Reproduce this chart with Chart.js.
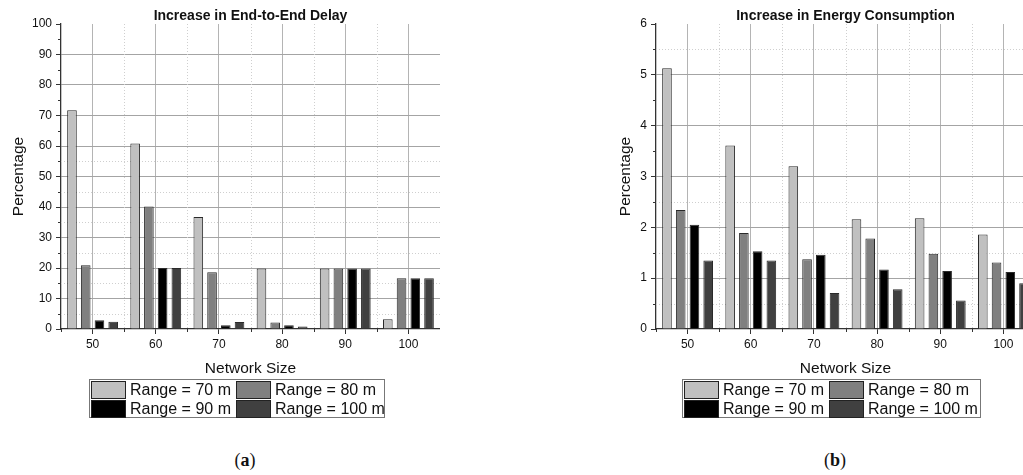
<!DOCTYPE html>
<html>
<head>
<meta charset="utf-8">
<script src="https://cdn.jsdelivr.net/npm/chart.js@4.4.0/dist/chart.umd.min.js"></script>
<style>
html, body { margin: 0; padding: 0; background: #fff; width: 1023px; height: 475px; overflow: hidden; position: relative; }
.panel { position: absolute; top: 0; }
#panelA { left: 0; }
#panelB { left: 595px; }
.legend {
  position: absolute; top: 379px; height: 39px;
  border: 1px solid #777; box-sizing: border-box;
  font-family: "Liberation Sans", Arial, sans-serif; font-size: 16px; color: #111;
}
.legend .item { position: absolute; height: 18px; line-height: 18px; white-space: nowrap; }
.legend .sw { position: absolute; left: 0; top: 0; width: 33px; height: 16px; border: 1px solid #222; }
.legend .txt { position: absolute; left: 39px; top: 0; }
.caption {
  position: absolute; top: 450px; width: 60px; text-align: center;
  font-family: "Liberation Serif", "DejaVu Serif", serif; font-size: 18px; color: #111;
}
</style>
</head>
<body>
<div class="panel" id="panelA"><canvas id="chartDelay" width="440" height="380"></canvas></div>
<div class="panel" id="panelB"><canvas id="chartEnergy" width="440" height="380"></canvas></div>
<div class="legend" id="legendA" style="left:89px;width:296px;"></div>
<div class="legend" id="legendB" style="left:682px;width:299px;"></div>
<div class="caption" style="left:215px;">(<b>a</b>)</div>
<div class="caption" style="left:805px;">(<b>b</b>)</div>

<script>
// ===== DATA =====
const networkSizes = ["50", "60", "70", "80", "90", "100"];
const rangeLabels = ["Range = 70 m", "Range = 80 m", "Range = 90 m", "Range = 100 m"];
const rangeColors = ["#c0c0c0", "#808080", "#000000", "#404040"];

// end-to-end delay increase (%)
const delay70 = [71.7, 60.8, 36.7, 19.8, 19.8, 3.2];
const delay80 = [20.9, 40.2, 18.6, 2.1, 19.8, 16.6];
const delay90 = [2.9, 20.0, 1.2, 1.2, 19.8, 16.6];
const delay100 = [2.4, 20.0, 2.3, 0.8, 19.8, 16.6];

// energy consumption increase (%)
const energy70 = [5.13, 3.61, 3.20, 2.16, 2.18, 1.86];
const energy80 = [2.34, 1.89, 1.37, 1.78, 1.48, 1.31];
const energy90 = [2.05, 1.53, 1.46, 1.17, 1.14, 1.12];
const energy100 = [1.35, 1.35, 0.71, 0.78, 0.56, 0.90];

const delayTicks = { max: 100, step: 10 };
const energyTicks = { max: 6, step: 1 };

// dotted helper lines that show up in each panel
const delayMinorLines = [5, 15, 25, 35, 45, 55];
const energyMinorLines = [0.5, 1.5, 2.5, 5.5];

const FONT = '"Liberation Sans", Arial, sans-serif';

// ===== MINOR GRID + MINOR TICKS =====
const minorGrid = {
  id: 'minorGrid',
  beforeDatasetsDraw(chart, args, opts) {
    const { ctx, chartArea: a, scales: { x, y } } = chart;
    const step = opts.step;
    ctx.save();
    ctx.lineWidth = 1;
    ctx.strokeStyle = '#cfcfcf';
    ctx.setLineDash([1, 2]);
    ctx.beginPath();
    opts.lines.forEach(v => {
      const py = Math.round(y.getPixelForValue(v)) + 0.5;
      ctx.moveTo(a.left, py);
      ctx.lineTo(a.right, py);
    });
    for (let i = 1; i < networkSizes.length; i++) {
      const px = Math.round(x.getPixelForValue(i - 0.5)) + 0.5;
      ctx.moveTo(px, a.top);
      ctx.lineTo(px, a.bottom);
    }
    ctx.stroke();

    // short ticks between the major ones
    ctx.setLineDash([]);
    ctx.strokeStyle = '#333';
    ctx.beginPath();
    for (let v = step / 2; v < y.max; v += step) {
      const py = Math.round(y.getPixelForValue(v)) + 0.5;
      ctx.moveTo(a.left - 3, py);
      ctx.lineTo(a.left, py);
    }
    for (let i = 0; i <= networkSizes.length; i++) {
      const px = Math.round(x.getPixelForValue(i - 0.5)) + 0.5;
      ctx.moveTo(px, a.bottom);
      ctx.lineTo(px, a.bottom + 3);
    }
    ctx.stroke();
    ctx.restore();
  }
};

function makeDatasets(series) {
  return series.map((data, i) => ({
    label: rangeLabels[i],
    data: data,
    backgroundColor: rangeColors[i],
    borderColor: '#2a2a2a',
    borderWidth: 1,
    categoryPercentage: 0.87,
    barPercentage: 0.7
  }));
}

function makeChart(id, title, series, ticks, minorLines, yTitlePad) {
  return new Chart(document.getElementById(id), {
    type: 'bar',
    data: { labels: networkSizes, datasets: makeDatasets(series) },
    plugins: [minorGrid],
    options: {
      responsive: false,
      animation: false,
      layout: { padding: 0 },
      plugins: {
        legend: { display: false },
        tooltip: { enabled: false },
        minorGrid: { step: ticks.step, lines: minorLines },
        title: {
          display: true,
          text: title,
          fullSize: false,
          color: '#111',
          font: { family: FONT, size: 14, weight: 'bold', lineHeight: 1.0 },
          padding: { top: 9, bottom: 1 }
        }
      },
      scales: {
        x: {
          offset: true,
          grid: {
            offset: false,
            color: '#b4b4b4',
            lineWidth: 1,
            tickColor: '#333',
            tickLength: 5
          },
          border: { color: '#333', width: 1.3 },
          ticks: { color: '#111', font: { family: FONT, size: 12 }, padding: 3, maxRotation: 0 },
          title: {
            display: true,
            text: 'Network Size',
            color: '#111',
            font: { family: FONT, size: 15.5, lineHeight: 1.2 },
            padding: { top: 0, bottom: 1.7 }
          },
          afterFit(scale) { scale.height = 51; }
        },
        y: {
          min: 0,
          max: ticks.max,
          ticks: { stepSize: ticks.step, color: '#111', font: { family: FONT, size: 12 }, padding: 4 },
          grid: {
            color: c => (c.tick && (c.tick.value === ticks.max || c.tick.value === 0)) ? 'rgba(0,0,0,0)' : '#a4a4a4',
            lineWidth: 1,
            tickColor: '#333',
            tickLength: 5
          },
          border: { color: '#333', width: 1.3 },
          title: {
            display: true,
            text: 'Percentage',
            color: '#111',
            font: { family: FONT, size: 15.5, lineHeight: 1.2 },
            padding: { top: yTitlePad, bottom: 0 }
          },
          afterFit(scale) { scale.width = 61; }
        }
      }
    }
  });
}

makeChart('chartDelay', 'Increase in End-to-End Delay',
  [delay70, delay80, delay90, delay100], delayTicks, delayMinorLines, 9.5);
makeChart('chartEnergy', 'Increase in Energy Consumption',
  [energy70, energy80, energy90, energy100], energyTicks, energyMinorLines, 21.5);

// ===== LEGENDS =====
function buildLegend(id) {
  const box = document.getElementById(id);
  const cols = [1, 146];
  const rows = [1, 20];
  rangeLabels.forEach((label, i) => {
    const item = document.createElement('div');
    item.className = 'item';
    item.style.left = cols[i % 2] + 'px';
    item.style.top = rows[Math.floor(i / 2)] + 'px';
    const sw = document.createElement('div');
    sw.className = 'sw';
    sw.style.background = rangeColors[i];
    const txt = document.createElement('span');
    txt.className = 'txt';
    txt.textContent = label;
    item.appendChild(sw);
    item.appendChild(txt);
    box.appendChild(item);
  });
}
buildLegend('legendA');
buildLegend('legendB');
</script>
</body>
</html>
